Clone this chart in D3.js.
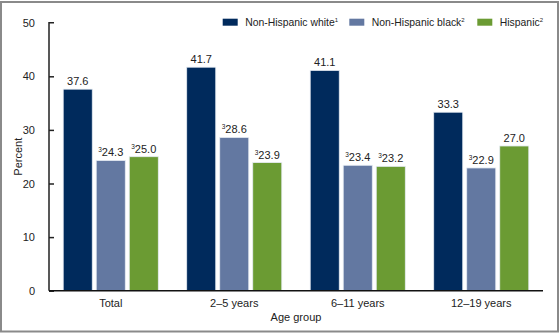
<!DOCTYPE html>
<html>
<head>
<script src="https://d3js.org/d3.v7.min.js"></script>
<style>
  body { margin: 0; background: #fff; }
  svg { display: block; font-family: 'Liberation Sans', Arial, sans-serif; }
  text { fill: #222; }
</style>
</head>
<body>
<svg width="560" height="334"></svg>
<script>
// DATA ========================================================
const groups = ["Total", "2\u20135 years", "6\u201311 years", "12\u201319 years"];
const series = ["Non-Hispanic white", "Non-Hispanic black", "Hispanic"];
const seriesNote = ["1", "2", "2"];
const white = [37.6, 41.7, 41.1, 33.3];
const black = [24.3, 28.6, 23.4, 22.9];
const hispanic = [25.0, 23.9, 23.2, 27.0];
// footnote 3 flags per value
const whiteFlag = [false, false, false, false];
const blackFlag = [true, true, true, true];
const hispanicFlag = [true, true, true, false];
const yTicks = [0, 10, 20, 30, 40, 50];
const colors = ["#002a5c", "#6378a1", "#6b9b33"];

const values = [white, black, hispanic];
const flags = [whiteFlag, blackFlag, hispanicFlag];

// LAYOUT ======================================================
const svg = d3.select("svg");
const margin = {left: 49, right: 17, top: 22.7, bottom: 43.3};
const W = 560, H = 334;

svg.append("rect")
  .attr("x", 1).attr("y", 2).attr("width", 557).attr("height", 329.5)
  .attr("fill", "none").attr("stroke", "#8a8a8a").attr("stroke-width", 2);

const x0 = d3.scaleBand().domain(groups)
  .range([margin.left, W - margin.right]).paddingInner(0.23).paddingOuter(0.115);
const x1 = d3.scaleBand().domain(series)
  .range([0, x0.bandwidth()]).paddingInner(0.12);
const y = d3.scaleLinear().domain([0, 50]).range([H - margin.bottom, margin.top]);

// AXES ========================================================
const yAxis = svg.append("g")
  .attr("transform", `translate(${margin.left},0)`)
  .call(d3.axisLeft(y).tickValues(yTicks).tickSize(6).tickPadding(8).tickSizeOuter(0));
yAxis.select(".domain").attr("stroke", "#222").attr("stroke-width", 1.5);
yAxis.selectAll(".tick line").attr("stroke", "#222").attr("stroke-width", 1.5).attr("x2", 5);
yAxis.selectAll(".tick text").attr("font-size", 11).attr("fill", "#222")
  .style("font-family", "'Liberation Sans', Arial, sans-serif");
yAxis.select(".tick:last-of-type line").remove();
yAxis.select(".domain").attr("d", `M5,${y(50)}H0V${y(0)}`);

// BARS ========================================================
const gGroups = svg.append("g").selectAll("g")
  .data(groups).join("g")
  .attr("transform", d => `translate(${x0(d)},0)`);

series.forEach((s, si) => {
  gGroups.append("rect")
    .attr("x", x1(s))
    .attr("width", x1.bandwidth())
    .attr("y", (d, gi) => y(values[si][gi]))
    .attr("height", (d, gi) => y(0) - y(values[si][gi]))
    .attr("fill", colors[si])
    .attr("stroke", "#e6ecf3").attr("stroke-width", 0.8);

  const lbl = gGroups.append("text")
    .attr("x", x1(s) + x1.bandwidth() / 2)
    .attr("y", (d, gi) => y(values[si][gi]) - 4)
    .attr("text-anchor", "middle")
    .attr("font-size", 11);
  lbl.filter((d, gi) => flags[si][gi]).append("tspan")
    .attr("font-size", 6.5).attr("dy", -4).text("3");
  lbl.append("tspan")
    .attr("dy", (d, gi) => flags[si][gi] ? 4 : 0)
    .text((d, gi) => values[si][gi].toFixed(1));
});

// X AXIS LINE + LABELS ========================================
svg.append("line")
  .attr("x1", margin.left).attr("x2", W - margin.right)
  .attr("y1", y(0)).attr("y2", y(0))
  .attr("stroke", "#111").attr("stroke-width", 1.5);

svg.append("g").selectAll("text")
  .data(groups).join("text")
  .attr("x", d => x0(d) + x0.bandwidth() / 2)
  .attr("y", y(0) + 16)
  .attr("text-anchor", "middle")
  .attr("font-size", 11)
  .text(d => d);

svg.append("text")
  .attr("x", (margin.left + W - margin.right) / 2)
  .attr("y", 321)
  .attr("text-anchor", "middle")
  .attr("font-size", 11)
  .text("Age group");

svg.append("text")
  .attr("transform", `translate(22,${(y(0) + y(50)) / 2}) rotate(-90)`)
  .attr("text-anchor", "middle")
  .attr("font-size", 11)
  .text("Percent");

// LEGEND ======================================================
const legendX = [222.7, 349.3, 477.3];
const legend = svg.append("g").selectAll("g")
  .data(series).join("g")
  .attr("transform", (d, i) => `translate(${legendX[i]},18.7)`);
legend.append("rect")
  .attr("width", 15).attr("height", 7)
  .attr("fill", (d, i) => colors[i]);
const lt = legend.append("text")
  .attr("x", 22.5).attr("y", 7.5)
  .attr("font-size", 10.4);
lt.append("tspan").text(d => d);
lt.append("tspan").attr("font-size", 6).attr("dy", -4)
  .text((d, i) => seriesNote[i]);
</script>
</body>
</html>
